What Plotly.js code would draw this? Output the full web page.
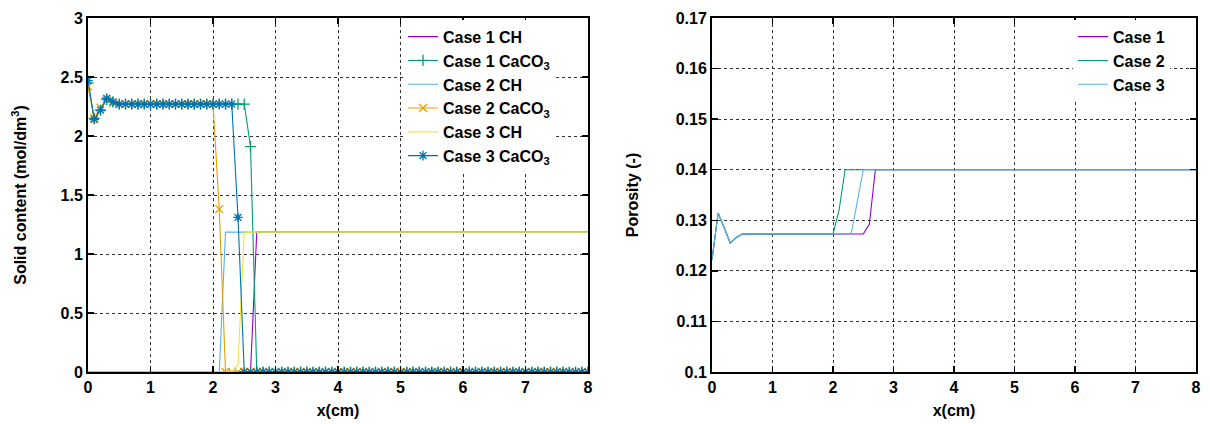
<!DOCTYPE html>
<html><head><meta charset="utf-8">
<script src="https://cdn.plot.ly/plotly-3.0.1.min.js"></script>
<style>html,body{margin:0;padding:0;background:#fff}#chart{width:1210px;height:424px}</style>
</head><body><div id="chart"></div>
<script>
// x positions (cm)
const xPos = [
0.0,0.1,0.2,0.3,0.4,0.5,0.6,0.7,0.8,0.9,
1.0,1.1,1.2,1.3,1.4,1.5,1.6,1.7,1.8,1.9,
2.0,2.1,2.2,2.3,2.4,2.5,2.6,2.7,2.8,2.9,
3.0,3.1,3.2,3.3,3.4,3.5,3.6,3.7,3.8,3.9,
4.0,4.1,4.2,4.3,4.4,4.5,4.6,4.7,4.8,4.9,
5.0,5.1,5.2,5.3,5.4,5.5,5.6,5.7,5.8,5.9,
6.0,6.1,6.2,6.3,6.4,6.5,6.6,6.7,6.8,6.9,
7.0,7.1,7.2,7.3,7.4,7.5,7.6,7.7,7.8,7.9,
8.0];

// Solid content (mol/dm3)
const case1CH = [
0,0,0,0,0,0,0,0,0,0,
0,0,0,0,0,0,0,0,0,0,
0,0,0,0,0,0,0,1.185,1.185,1.185,
1.185,1.185,1.185,1.185,1.185,1.185,1.185,1.185,1.185,1.185,
1.185,1.185,1.185,1.185,1.185,1.185,1.185,1.185,1.185,1.185,
1.185,1.185,1.185,1.185,1.185,1.185,1.185,1.185,1.185,1.185,
1.185,1.185,1.185,1.185,1.185,1.185,1.185,1.185,1.185,1.185,
1.185,1.185,1.185,1.185,1.185,1.185,1.185,1.185,1.185,1.185,
1.185];
const case1CaCO3 = [
2.45,2.15,2.22,2.31,2.29,2.27,2.27,2.27,2.27,2.27,
2.27,2.27,2.27,2.27,2.27,2.27,2.27,2.27,2.27,2.27,
2.27,2.27,2.27,2.27,2.27,2.27,1.91,0,0,0,
0,0,0,0,0,0,0,0,0,0,
0,0,0,0,0,0,0,0,0,0,
0,0,0,0,0,0,0,0,0,0,
0,0,0,0,0,0,0,0,0,0,
0,0,0,0,0,0,0,0,0,0,
0];
const case2CH = [
0,0,0,0,0,0,0,0,0,0,
0,0,0,0,0,0,0,0,0,0,
0,0,1.185,1.185,1.185,1.185,1.185,1.185,1.185,1.185,
1.185,1.185,1.185,1.185,1.185,1.185,1.185,1.185,1.185,1.185,
1.185,1.185,1.185,1.185,1.185,1.185,1.185,1.185,1.185,1.185,
1.185,1.185,1.185,1.185,1.185,1.185,1.185,1.185,1.185,1.185,
1.185,1.185,1.185,1.185,1.185,1.185,1.185,1.185,1.185,1.185,
1.185,1.185,1.185,1.185,1.185,1.185,1.185,1.185,1.185,1.185,
1.185];
const case2CaCO3 = [
2.42,2.15,2.24,2.31,2.28,2.27,2.27,2.27,2.27,2.27,
2.27,2.27,2.27,2.27,2.27,2.27,2.27,2.27,2.27,2.27,
2.27,1.38,0,0,0,0,0,0,0,0,
0,0,0,0,0,0,0,0,0,0,
0,0,0,0,0,0,0,0,0,0,
0,0,0,0,0,0,0,0,0,0,
0,0,0,0,0,0,0,0,0,0,
0,0,0,0,0,0,0,0,0,0,
0];
const case3CH = [
0,0,0,0,0,0,0,0,0,0,
0,0,0,0,0,0,0,0,0,0,
0,0,0,0,0.06,1.185,1.185,1.185,1.185,1.185,
1.185,1.185,1.185,1.185,1.185,1.185,1.185,1.185,1.185,1.185,
1.185,1.185,1.185,1.185,1.185,1.185,1.185,1.185,1.185,1.185,
1.185,1.185,1.185,1.185,1.185,1.185,1.185,1.185,1.185,1.185,
1.185,1.185,1.185,1.185,1.185,1.185,1.185,1.185,1.185,1.185,
1.185,1.185,1.185,1.185,1.185,1.185,1.185,1.185,1.185,1.185,
1.185];
const case3CaCO3 = [
2.47,2.14,2.22,2.32,2.29,2.27,2.27,2.27,2.27,2.27,
2.27,2.27,2.27,2.27,2.27,2.27,2.27,2.27,2.27,2.27,
2.27,2.27,2.27,2.27,1.31,0,0,0,0,0,
0,0,0,0,0,0,0,0,0,0,
0,0,0,0,0,0,0,0,0,0,
0,0,0,0,0,0,0,0,0,0,
0,0,0,0,0,0,0,0,0,0,
0,0,0,0,0,0,0,0,0,0,
0];

// Porosity (-)
const case1Por = [
0.1222,0.1314,0.1286,0.1255,0.1266,0.1273,0.1273,0.1273,0.1273,0.1273,
0.1273,0.1273,0.1273,0.1273,0.1273,0.1273,0.1273,0.1273,0.1273,0.1273,
0.1273,0.1273,0.1273,0.1273,0.1273,0.1273,0.1292,0.14,0.14,0.14,
0.14,0.14,0.14,0.14,0.14,0.14,0.14,0.14,0.14,0.14,
0.14,0.14,0.14,0.14,0.14,0.14,0.14,0.14,0.14,0.14,
0.14,0.14,0.14,0.14,0.14,0.14,0.14,0.14,0.14,0.14,
0.14,0.14,0.14,0.14,0.14,0.14,0.14,0.14,0.14,0.14,
0.14,0.14,0.14,0.14,0.14,0.14,0.14,0.14,0.14,0.14,
0.14];
const case2Por = [
0.1222,0.1314,0.1286,0.1255,0.1266,0.1273,0.1273,0.1273,0.1273,0.1273,
0.1273,0.1273,0.1273,0.1273,0.1273,0.1273,0.1273,0.1273,0.1273,0.1273,
0.1273,0.132,0.14,0.14,0.14,0.14,0.14,0.14,0.14,0.14,
0.14,0.14,0.14,0.14,0.14,0.14,0.14,0.14,0.14,0.14,
0.14,0.14,0.14,0.14,0.14,0.14,0.14,0.14,0.14,0.14,
0.14,0.14,0.14,0.14,0.14,0.14,0.14,0.14,0.14,0.14,
0.14,0.14,0.14,0.14,0.14,0.14,0.14,0.14,0.14,0.14,
0.14,0.14,0.14,0.14,0.14,0.14,0.14,0.14,0.14,0.14,
0.14];
const case3Por = [
0.1222,0.1314,0.1286,0.1255,0.1266,0.1273,0.1273,0.1273,0.1273,0.1273,
0.1273,0.1273,0.1273,0.1273,0.1273,0.1273,0.1273,0.1273,0.1273,0.1273,
0.1273,0.1273,0.1273,0.1273,0.1336,0.14,0.14,0.14,0.14,0.14,
0.14,0.14,0.14,0.14,0.14,0.14,0.14,0.14,0.14,0.14,
0.14,0.14,0.14,0.14,0.14,0.14,0.14,0.14,0.14,0.14,
0.14,0.14,0.14,0.14,0.14,0.14,0.14,0.14,0.14,0.14,
0.14,0.14,0.14,0.14,0.14,0.14,0.14,0.14,0.14,0.14,
0.14,0.14,0.14,0.14,0.14,0.14,0.14,0.14,0.14,0.14,
0.14];

const leftNames = ['Case 1 CH','Case 1 CaCO<sub>3</sub>','Case 2 CH','Case 2 CaCO<sub>3</sub>','Case 3 CH','Case 3 CaCO<sub>3</sub>'];
const rightNames = ['Case 1','Case 2','Case 3'];

const PURPLE='#9400d3', GREEN='#009e73', LBLUE='#56b4e9', ORANGE='#e69f00', YELLOW='#f0e442', BLUE='#0072b2';

function lineTrace(y, name, color, xa, ya, leg){
  return {x:xPos, y:y, name:name, type:'scatter', mode:'lines', xaxis:xa, yaxis:ya, legend:leg,
    line:{color:color, width:1.1}};
}
function markTrace(y, name, color, sym){
  return {x:xPos, y:y, name:name, type:'scatter', mode:'lines+markers', xaxis:'x', yaxis:'y', legend:'legend',
    line:{color:color, width:1.1},
    marker:{symbol:sym, size:8, color:color, line:{color:color, width:1.3}}};
}

const data = [
  lineTrace(case1CH, leftNames[0], PURPLE, 'x', 'y', 'legend'),
  markTrace(case1CaCO3, leftNames[1], GREEN, 'cross-thin-open'),
  lineTrace(case2CH, leftNames[2], LBLUE, 'x', 'y', 'legend'),
  markTrace(case2CaCO3, leftNames[3], ORANGE, 'x-thin-open'),
  lineTrace(case3CH, leftNames[4], YELLOW, 'x', 'y', 'legend'),
  markTrace(case3CaCO3, leftNames[5], BLUE, 'asterisk-open'),
  lineTrace(case1Por, rightNames[0], PURPLE, 'x2', 'y2', 'legend2'),
  lineTrace(case2Por, rightNames[1], GREEN, 'x2', 'y2', 'legend2'),
  lineTrace(case3Por, rightNames[2], LBLUE, 'x2', 'y2', 'legend2')
];

const FONT = '"Liberation Sans", Arial, Helvetica, sans-serif';
const axisCommon = {
  showline:true, linecolor:'#000', linewidth:2, mirror:'ticks',
  ticks:'inside', ticklen:6, tickwidth:1.5, tickcolor:'#000',
  showgrid:true, gridcolor:'#333', griddash:'dot', gridwidth:1,
  zeroline:false, fixedrange:true, layer:'above traces',
  tickfont:{family:FONT, size:16, color:'#000', weight:'bold'}
};
const titleFont = {family:FONT, size:16, color:'#000', weight:'bold'};

const layout = {
  width:1210, height:424,
  margin:{l:88, r:14, t:18, b:52},
  paper_bgcolor:'#fff', plot_bgcolor:'#fff',
  font:{family:FONT, size:16, color:'#000', weight:'bold'},
  showlegend:true,
  xaxis:Object.assign({}, axisCommon, {domain:[0,0.4513], range:[0,8], tick0:0, dtick:1, anchor:'y',
    title:{text:'x(cm)', font:titleFont, standoff:10}}),
  yaxis:Object.assign({}, axisCommon, {domain:[0,1], range:[0,3], tick0:0, dtick:0.5, anchor:'x',
    title:{text:'Solid content (mol/dm<sup>3</sup>)', font:titleFont, standoff:30}}),
  xaxis2:Object.assign({}, axisCommon, {domain:[0.5632,1], range:[0,8], tick0:0, dtick:1, anchor:'y2',
    title:{text:'x(cm)', font:titleFont, standoff:10}}),
  yaxis2:Object.assign({}, axisCommon, {domain:[0,1], range:[0.1,0.17], tick0:0.1, dtick:0.01, anchor:'x2',
    title:{text:'Porosity (-)', font:titleFont, standoff:33}}),
  legend:{x:0.4215, xanchor:'right', y:0.995, yanchor:'top', bgcolor:'#fff', borderwidth:0,
    font:{family:FONT, size:16, color:'#000', weight:'bold'}, tracegroupgap:0},
  legend2:{x:0.9765, xanchor:'right', y:0.995, yanchor:'top', bgcolor:'#fff', borderwidth:0,
    font:{family:FONT, size:16, color:'#000', weight:'bold'}, tracegroupgap:0}
};

Plotly.newPlot('chart', data, layout, {displayModeBar:false, staticPlot:true});
</script>
</body></html>
